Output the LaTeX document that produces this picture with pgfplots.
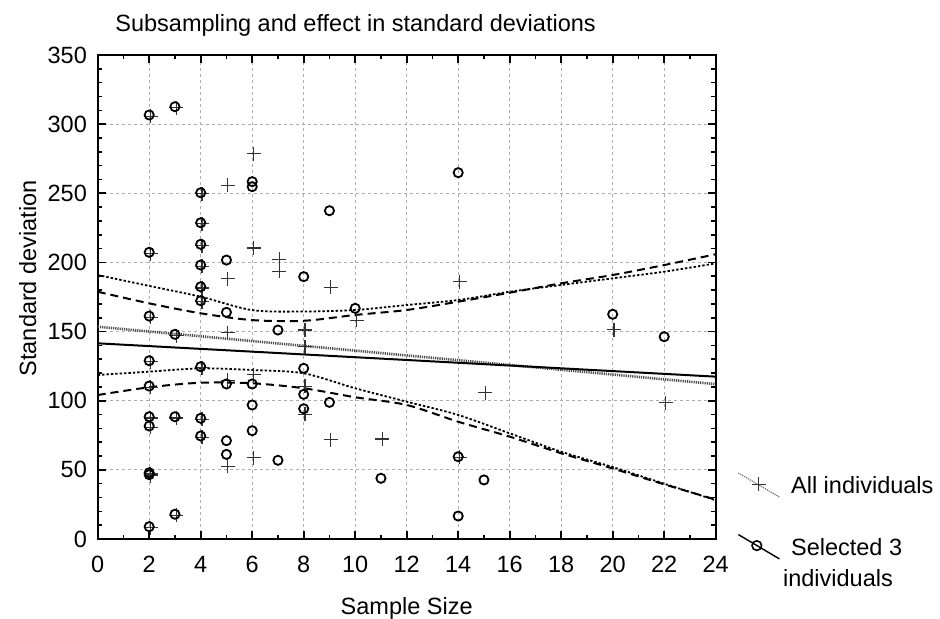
\documentclass[border=0pt]{standalone}
\usepackage{fontspec}
\setmainfont{Liberation Sans}
\usepackage{pgfplots}
\pgfplotsset{compat=1.18}
\begin{document}
\begin{tikzpicture}
\begin{axis}[
 at={(0,0)}, anchor=south west,
 scale only axis, width=309pt, height=242pt,
 xmin=0,xmax=24,ymin=0,ymax=350,
 xtick={0,2,...,24}, ytick={0,50,...,350},
 minor x tick num=1, minor y tick num=4,
 tick align=inside, major tick length=4pt, minor tick length=2.2pt,
 every tick/.style={black, line width=0.8pt},
 axis line style={line width=1pt},
 grid=major,
 major grid style={black!32, line width=0.6pt, dash pattern=on 1.5pt off 1.5pt},
 font=\fontsize{11.75}{14}\selectfont,
 /pgf/number format/assume math mode=true,
 yticklabel style={xshift=-1.9pt},
 xticklabel style={yshift=-4.9pt},
 title={Subsampling and effect in standard deviations},
 every axis title/.style={at={(axis description cs:0,1)}, anchor=base west, inner sep=0pt, xshift=8.65pt, yshift=11.75pt},
 xlabel={Sample Size},
 every axis x label/.style={at={(axis description cs:0.5,0)}, anchor=base, yshift=-37.6pt, inner sep=0pt},
 ylabel={Standard deviation},
 every axis y label/.style={at={(axis description cs:-0.0998,0.5386)}, rotate=90, anchor=base, inner sep=0pt},
 legend style={at={(axis description cs:1,0)}, anchor=north west, xshift=11pt, yshift=33.35pt,
   draw=none, fill=none, inner sep=0pt, outer sep=0pt, row sep=0pt, column sep=5.5pt,
   cells={anchor=base west}, nodes={inner sep=0pt, text height=10.5pt, text depth=4.9pt}},
]
% confidence bands, All individuals (dotted)
\addplot[forget plot, smooth, black, line width=0.9pt, dash pattern=on 1.2pt off 1pt] coordinates {
 (0,190.9)(2,183)(4,175.2)(6,165.5)(8,164.5)(10,165.6)(12,169.2)(14,172.8)(16,178.8)(18,183.7)(20,188.5)(22,193.3)(24,199.3)};
\addplot[forget plot, smooth, black, line width=0.9pt, dash pattern=on 1.2pt off 1pt] coordinates {
 (0,118.6)(2,121)(4,123.4)(6,122.2)(8,119.8)(10,109)(12,99.3)(14,89.7)(16,76.4)(18,63.1)(20,52)(22,40)(24,28)};
% confidence bands, Selected 3 (dashed)
\addplot[forget plot, smooth, black, line width=1pt, dash pattern=on 4pt off 2.5pt] coordinates {
 (0,178.8)(2,170.4)(4,163.2)(6,158.3)(8,157.8)(10,162)(12,165.6)(14,171.6)(16,178.1)(18,184.9)(20,190.9)(22,198.1)(24,205.9)};
\addplot[forget plot, smooth, black, line width=1pt, dash pattern=on 4pt off 2.5pt] coordinates {
 (0,104.1)(2,109.7)(4,113)(6,112.6)(8,109)(10,102.5)(12,96.9)(14,84.8)(16,74)(18,62)(20,51)(22,39.5)(24,28.5)};
% regression lines
\addplot[forget plot, black!70, line width=1.3pt, dash pattern=on 0.6pt off 0.5pt] coordinates {(0,153.5)(24,112)};
\addplot[forget plot, black, line width=1pt] coordinates {(0,141.5)(24,117.4)};
% All individuals
\addplot[forget plot, only marks, mark=+, mark size=3.5pt, black!80, line width=0.55pt,
  mark options={xshift=0.65pt, yshift=-0.6pt}] coordinates {
 (2,306.6)(2,207.3)(2,161.2)(2,128.9)(2,110.6)(2,88.4)(2,81.7)(2,47.9)(2,46.5)(2,8.9)
 (3,312.6)(3,148)(3,88.4)(3,17.9)
 (4,250.4)(4,228.7)(4,213.1)(4,198.1)(4,182.4)(4,172.3)(4,124.6)(4,87.3)(4,74.5)
 (5,256.7)(5,189.2)(5,149.9)(5,115.7)(5,53.5)
 (6,279.6)(6,211.3)(6,119.8)(6,59.5)
 (7,203)(7,194.5)
 (8,152)(8,140)(8,111.4)(8,91.1)
 (9,183)(9,72.8)
 (10,159.1)(11,73.2)(14,186.8)(14,60)(15,106.8)(20,152.3)(22,99.3)};
% Selected 3 individuals
\addplot[forget plot, only marks, mark=o, mark size=2.3pt, black, line width=0.9pt] coordinates {
 (2,306.6)(2,207.3)(2,161.2)(2,128.9)(2,110.6)(2,88.4)(2,81.7)(2,47.9)(2,46.5)(2,8.9)
 (3,312.6)(3,148)(3,88.4)(3,17.9)
 (4,250.4)(4,228.7)(4,213.1)(4,198.1)(4,182.4)(4,172.3)(4,124.6)(4,87.3)(4,74.5)
 (5,201.7)(5,163.9)(5,112.1)(5,71.1)(5,61.2)
 (6,258.4)(6,254.8)(6,112.1)(6,96.9)(6,78.3)
 (7,151.1)(7,56.9)
 (8,189.7)(8,123.4)(8,104.6)(8,94.2)
 (9,237.4)(9,98.8)
 (10,166.8)(11,43.9)(14,264.9)(14,59.5)(14,16.6)(15,42.7)(20,162.5)(22,146.3)};
% legend
\addlegendimage{legend image code/.code={
  \draw[black!55, line width=0.6pt, dash pattern=on 0.6pt off 0.5pt] (0pt,10.15pt) -- (20.5pt,-1.85pt);
  \draw[black!80, line width=0.55pt] (6.7pt,4.5pt) -- (13.7pt,4.5pt) (10.2pt,1pt) -- (10.2pt,8pt);}}
\addlegendentry{All individuals}
\addlegendimage{empty legend}
\addlegendentry{\mbox{}}
\addlegendimage{legend image code/.code={
  \draw[black, line width=0.7pt] (0pt,10.5pt) -- (20.5pt,-1.65pt);
  \draw[black, line width=0.8pt] (9.2pt,5pt) circle (2.4pt);}}
\addlegendentry{Selected 3}
\addlegendimage{empty legend}
\addlegendentry{\hspace*{-4pt}individuals}
\end{axis}
\pgfresetboundingbox
\path[use as bounding box] (-48.85pt,-40pt) rectangle (421.15pt,269.5pt);
\end{tikzpicture}
\end{document}
